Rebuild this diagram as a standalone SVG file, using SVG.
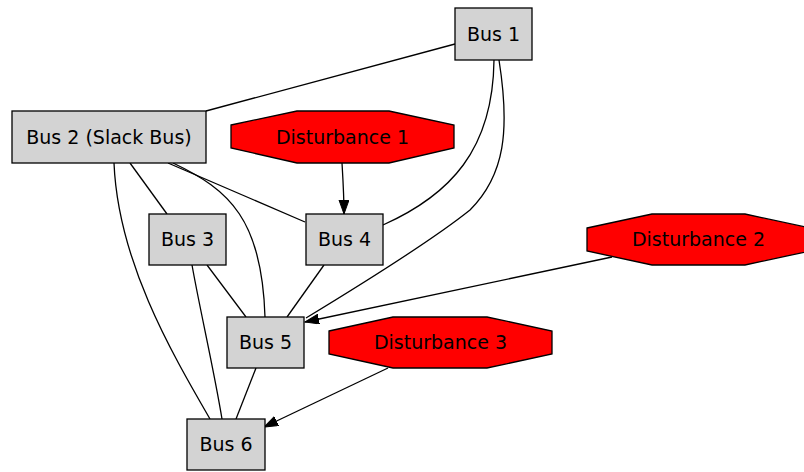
<svg xmlns="http://www.w3.org/2000/svg" width="804" height="472" viewBox="0 0 804 472">
  <style>
    .bus { fill: #d3d3d3; stroke: #000; stroke-width: 1.3; }
    .dist { fill: #ff0000; stroke: #000; stroke-width: 1.3; }
    .label { font-family: "DejaVu Sans", sans-serif; font-size: 19px; fill: #000; text-anchor: middle; }
    .edge { fill: none; stroke: #000; stroke-width: 1.3; }
    .arrow { marker-end: url(#head); }
  </style>
  <defs>
    <marker id="head" markerUnits="userSpaceOnUse" markerWidth="16" markerHeight="12" refX="14" refY="5" orient="auto">
      <path d="M0,0 L14,5 L0,10 Z" fill="#000" stroke="#000" stroke-width="1"/>
    </marker>
  </defs>
  <rect width="804" height="472" fill="#fff"/>

  <g id="edges">
    <path class="edge" d="M455,44 L206,111"/>
    <path class="edge" d="M494,60 C493,150 450,195 383,225"/>
    <path class="edge" d="M499,60 C510,130 505,175 470,210 C430,242 362,284 306,318"/>
    <path class="edge" d="M130,163 L167,214"/>
    <path class="edge" d="M168,163 L305,222"/>
    <path class="edge" d="M173,163 C230,190 262,220 265,317"/>
    <path class="edge" d="M114,163 C118,260 170,350 210,419"/>
    <path class="edge" d="M207,265 L246,317"/>
    <path class="edge" d="M192,265 C200,310 214,370 222,419"/>
    <path class="edge" d="M324,265 L287,317"/>
    <path class="edge" d="M256,368 L236,419"/>
    <path class="edge arrow" d="M342,163 C343,180 344,195 344,214"/>
    <path class="edge arrow" d="M612,257 L305,322"/>
    <path class="edge arrow" d="M388,368 L264,427"/>
  </g>

  <g id="bus1">
    <rect class="bus" x="455" y="8" width="77" height="52"/>
    <text class="label" x="493.5" y="40.5">Bus 1</text>
  </g>
  <g id="bus2">
    <rect class="bus" x="12" y="111" width="194" height="52"/>
    <text class="label" x="109" y="143.5">Bus 2 (Slack Bus)</text>
  </g>
  <g id="bus3">
    <rect class="bus" x="149" y="214" width="77" height="51"/>
    <text class="label" x="187.5" y="246">Bus 3</text>
  </g>
  <g id="bus4">
    <rect class="bus" x="306" y="214" width="77" height="51"/>
    <text class="label" x="344.5" y="246">Bus 4</text>
  </g>
  <g id="bus5">
    <rect class="bus" x="227" y="317" width="77" height="51"/>
    <text class="label" x="265.5" y="349">Bus 5</text>
  </g>
  <g id="bus6">
    <rect class="bus" x="187" y="419" width="78" height="51"/>
    <text class="label" x="226" y="451">Bus 6</text>
  </g>
  <g id="disturbance1">
    <polygon class="dist" points="231,125 297,111 389,111 454,125 454,148 389,163 297,163 231,148"/>
    <text class="label" x="342.5" y="143.5">Disturbance 1</text>
  </g>
  <g id="disturbance2">
    <polygon class="dist" points="587,228 652,214 745,214 810,228 810,251 745,265 652,265 587,251"/>
    <text class="label" x="698.5" y="246">Disturbance 2</text>
  </g>
  <g id="disturbance3">
    <polygon class="dist" points="329,331 393,317 487,317 552,331 552,354 487,368 393,368 329,354"/>
    <text class="label" x="440.5" y="349">Disturbance 3</text>
  </g>
</svg>
